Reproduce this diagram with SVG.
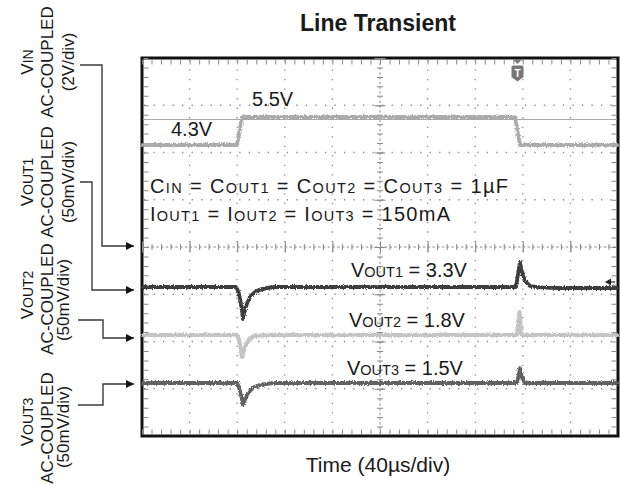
<svg xmlns="http://www.w3.org/2000/svg" width="620" height="485" viewBox="0 0 620 485">
<style>
.t{font-family:"Liberation Sans",Arial,sans-serif;fill:#1a1a1a}
.lbl{font-size:17px}
.sm{font-size:14px}
.big{font-size:20px}
.sub{font-size:14.5px}
.grid{stroke:#8a8a8a;stroke-width:1.3;stroke-dasharray:1.3 8.22;fill:none}
.tick{stroke:#8a8a8a;stroke-width:5;fill:none}
.conn{stroke:#3a3a3a;stroke-width:1.4;fill:none}
.tr{fill:none;stroke-linejoin:round;stroke-linecap:round}
</style>
<defs>
<marker id="ah" viewBox="0 0 10 10" refX="10" refY="5" markerWidth="8" markerHeight="8" markerUnits="userSpaceOnUse" orient="auto">
<path d="M0,0 L10,5 L0,10 z" fill="#111"/>
</marker>
<filter id="noise" filterUnits="userSpaceOnUse" x="138" y="54" width="482" height="386">
<feTurbulence type="fractalNoise" baseFrequency="1.1 0.6" numOctaves="2" seed="4"/>
<feDisplacementMap in="SourceGraphic" scale="3.5" xChannelSelector="R" yChannelSelector="G"/>
</filter>
</defs>
<rect x="0" y="0" width="620" height="485" fill="#fff"/>

<g id="title"><text class="t" x="378" y="31" font-size="23" font-weight="bold" text-anchor="middle">Line Transient</text></g>

<g id="scope">
<rect x="142" y="58" width="476" height="378" fill="#fff" stroke="#111" stroke-width="3"/>
<g class="grid">
<line x1="189.6" y1="60" x2="189.6" y2="434"/>
<line x1="237.2" y1="60" x2="237.2" y2="434"/>
<line x1="284.8" y1="60" x2="284.8" y2="434"/>
<line x1="332.4" y1="60" x2="332.4" y2="434"/>
<line x1="427.6" y1="60" x2="427.6" y2="434"/>
<line x1="475.2" y1="60" x2="475.2" y2="434"/>
<line x1="522.8" y1="60" x2="522.8" y2="434"/>
<line x1="570.4" y1="60" x2="570.4" y2="434"/>
<line x1="144" y1="105.25" x2="616" y2="105.25"/>
<line x1="144" y1="152.5" x2="616" y2="152.5"/>
<line x1="144" y1="199.75" x2="616" y2="199.75"/>
<line x1="144" y1="294.25" x2="616" y2="294.25"/>
<line x1="144" y1="341.5" x2="616" y2="341.5"/>
<line x1="144" y1="388.75" x2="616" y2="388.75"/>
</g>
<g class="tick" style="stroke-dasharray:1 8.52">
<line x1="142" y1="62" x2="618" y2="62"/>
<line x1="142" y1="432" x2="618" y2="432"/>
</g>
<g class="tick" style="stroke-dasharray:1 8.45">
<line x1="146" y1="58" x2="146" y2="436"/>
<line x1="614" y1="58" x2="614" y2="436"/>
</g>
<g stroke="#8a8a8a" fill="none">
<line x1="142" y1="247" x2="618" y2="247" stroke-width="1" stroke-dasharray="2.5 2.26"/>
<line x1="142" y1="247" x2="618" y2="247" stroke-width="6" stroke-dasharray="1 8.52"/>
<line x1="142" y1="247" x2="618" y2="247" stroke-width="11" stroke-dasharray="1 46.6"/>
<line x1="380" y1="58" x2="380" y2="436" stroke-width="1" stroke-dasharray="2.5 2.23"/>
<line x1="380" y1="58" x2="380" y2="436" stroke-width="6" stroke-dasharray="1 8.45"/>
<line x1="380" y1="58" x2="380" y2="436" stroke-width="11" stroke-dasharray="1 46.25"/>
</g>
<line x1="143" y1="119.5" x2="617" y2="119.5" stroke="#a8a8a8" stroke-width="1.2"/>
<path d="M512.5,59 L522.5,59 L517.5,64 z" fill="#777"/>
<path d="M511.5,67 Q511.5,65.5 513,65.5 L522,65.5 Q523.5,65.5 523.5,67 L523.5,77 L517.5,81.5 L511.5,77 z" fill="#777"/>
<text class="t" x="517.5" y="77" font-size="10" font-weight="bold" text-anchor="middle" style="fill:#fff">T</text>
</g>

<g id="traces" filter="url(#noise)">
<path id="vin" class="tr" stroke="#ababab" stroke-width="3.8" d="M143,145 H237 L242,117 H515 L520,145 H617"/>
<path id="vout2" class="tr" stroke="#c4c4c4" stroke-width="4.2" d="M143,335 H237 Q240,340 242,357 Q245,342 252,337 Q258,335 270,335 H517 L519.5,312 L521,333 L523,335 H617"/>
<path id="vout1" class="tr" stroke="#3c3c3c" stroke-width="3.8" d="M143,287 H236 Q240,292 243,319 Q247,297 255,292 Q262,288 275,287 H516 L520,262 Q522,280 530,286 Q540,288 560,288 H617"/>
<path id="vout3" class="tr" stroke="#626262" stroke-width="3.8" d="M143,383 H237 Q240,388 243,405 Q247,392 254,387 Q262,384 275,383 H517 L520,368 Q521,378 525,383 H617"/>
</g>

<g id="level-marker">
<path d="M605,282 L611,278.5 L611,285.5 z" fill="#222"/>
<line x1="610" y1="282" x2="615" y2="282" stroke="#222" stroke-width="1.2"/>
</g>

<g id="plot-labels">
<text class="t big" x="252" y="106">5.5V</text>
<text class="t big" x="171" y="136">4.3V</text>
<text class="t big" x="150" y="193" textLength="358" lengthAdjust="spacing">C<tspan class="sub">IN</tspan> = C<tspan class="sub">OUT1</tspan> = C<tspan class="sub">OUT2</tspan> = C<tspan class="sub">OUT3</tspan> = 1µF</text>
<text class="t big" x="150" y="221" textLength="300" lengthAdjust="spacing">I<tspan class="sub">OUT1</tspan> = I<tspan class="sub">OUT2</tspan> = I<tspan class="sub">OUT3</tspan> = 150mA</text>
<text class="t big" x="351" y="277">V<tspan class="sub">OUT1</tspan> = 3.3V</text>
<text class="t big" x="349" y="327">V<tspan class="sub">OUT2</tspan> = 1.8V</text>
<text class="t big" x="347" y="375">V<tspan class="sub">OUT3</tspan> = 1.5V</text>
<text class="t" x="378" y="472" font-size="21" text-anchor="middle">Time (40µs/div)</text>
</g>

<g id="label-vin">
<text class="t lbl" text-anchor="middle" transform="translate(33,62) rotate(-90)">V<tspan class="sm">IN</tspan></text>
<text class="t lbl" text-anchor="middle" transform="translate(53,62) rotate(-90)">AC-COUPLED</text>
<text class="t lbl" text-anchor="middle" transform="translate(74,62) rotate(-90)">(2V/div)</text>
</g>
<g id="label-vout1">
<text class="t lbl" text-anchor="middle" transform="translate(33,182) rotate(-90)">V<tspan class="sm">OUT1</tspan></text>
<text class="t lbl" text-anchor="middle" transform="translate(53,182) rotate(-90)">AC-COUPLED</text>
<text class="t lbl" text-anchor="middle" transform="translate(74,182) rotate(-90)">(50mV/div)</text>
</g>
<g id="label-vout2">
<text class="t lbl" text-anchor="middle" transform="translate(33,295) rotate(-90)">V<tspan class="sm">OUT2</tspan></text>
<text class="t lbl" text-anchor="middle" transform="translate(53,299) rotate(-90)">AC-COUPLED</text>
<text class="t lbl" text-anchor="middle" transform="translate(69,300) rotate(-90)">(50mV/div)</text>
</g>
<g id="label-vout3">
<text class="t lbl" text-anchor="middle" transform="translate(33,422) rotate(-90)">V<tspan class="sm">OUT3</tspan></text>
<text class="t lbl" text-anchor="middle" transform="translate(53,428) rotate(-90)">AC-COUPLED</text>
<text class="t lbl" text-anchor="middle" transform="translate(69,427) rotate(-90)">(50mV/div)</text>
</g>

<g id="connectors">
<path class="conn" marker-end="url(#ah)" d="M80,65 H102 V246 H134"/>
<path class="conn" marker-end="url(#ah)" d="M80,182 H92 V290 H134"/>
<path class="conn" marker-end="url(#ah)" d="M78,320 H103 V338 H134"/>
<path class="conn" marker-end="url(#ah)" d="M78,405 H103 V384 H134"/>
</g>
</svg>
